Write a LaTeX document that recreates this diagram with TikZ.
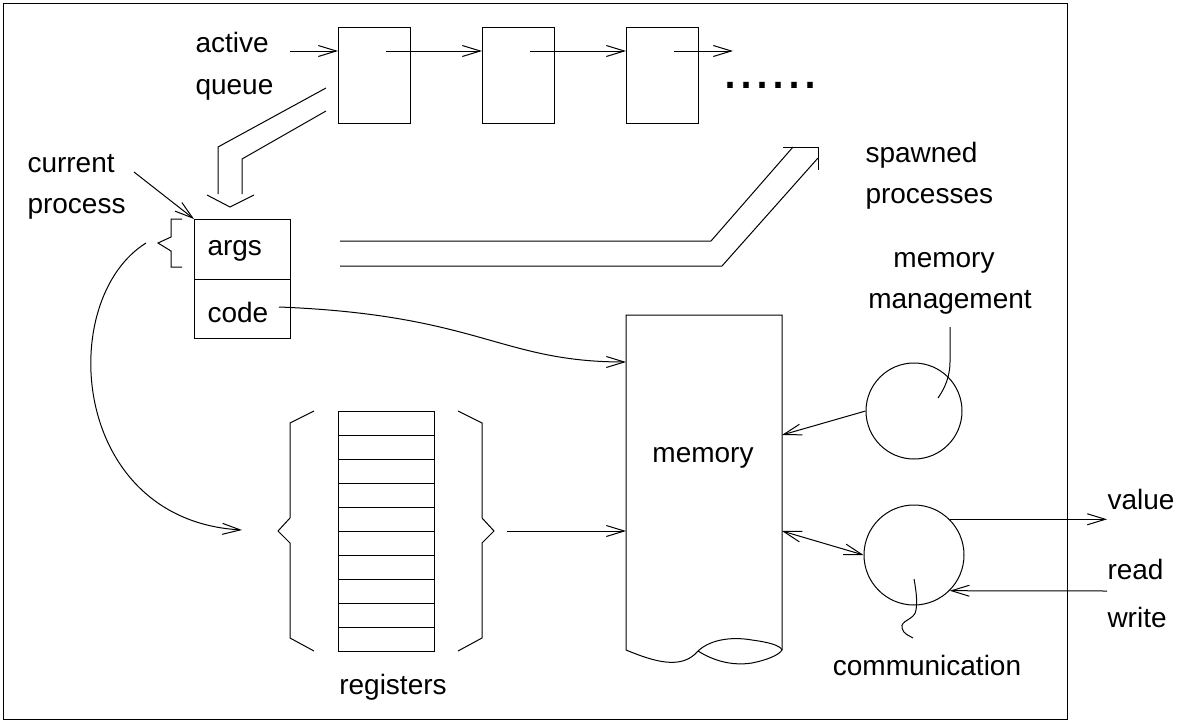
\documentclass[tikz,border=0pt]{standalone}
\usepackage{fontspec}
\setmainfont{Liberation Sans}
\usetikzlibrary{arrows.meta}
\begin{document}
\begin{tikzpicture}[x=1pt,y=-1pt,line width=1pt,
  lbl/.style={font=\fontsize{28}{30}\selectfont,inner sep=0pt,anchor=base west},
  clbl/.style={font=\fontsize{28}{30}\selectfont,inner sep=0pt,anchor=base},
  barb/.tip={Straight Barb[length=18pt,width=11pt]},
  arr/.style={-barb},
  box/.style={draw,inner sep=0pt,anchor=north west},
  circ/.style={draw,circle,inner sep=0pt}]
\useasboundingbox (0,0) rectangle (1178,723);
\draw (3,3) rectangle (1067,719);

% queue
\node[box,minimum width=72pt,minimum height=96pt] (q1) at (338,27) {};
\node[box,minimum width=72pt,minimum height=96pt] (q2) at (482,27) {};
\node[box,minimum width=72pt,minimum height=96pt] (q3) at (626,27) {};
\node[lbl] (active) at (195,52) {active};
\node[lbl] (queue) at (195,94) {queue};
\coordinate (qin) at (290,51);
\coordinate (qout) at (733,51);
\draw[arr] (qin) -- ([yshift=-24pt]q1.north west);
\draw[arr] ([xshift=48pt,yshift=-24pt]q1.north west) -- ([yshift=-24pt]q2.north west);
\draw[arr] ([xshift=48pt,yshift=-24pt]q2.north west) -- ([yshift=-24pt]q3.north west);
\draw[arr] ([xshift=48pt,yshift=-24pt]q3.north west) -- (qout);
\node[inner sep=0pt,anchor=base west,font=\fontsize{57.6}{60}\selectfont] (dots) at (722,88) {......};

% current process
\node[box,minimum width=96pt,minimum height=60pt] (args) at (194,219) {};
\node[box,minimum width=96pt,minimum height=59pt] (code) at (194,279) {};
\node[lbl] (argst) at (207,255) {args};
\node[lbl] (codet) at (207,322) {code};
\node[lbl] (current) at (27,172) {current};
\node[lbl] (process) at (27,213) {process};
\coordinate (cp) at (134,172);
\draw[arr] (cp) -- (args.north west);

% hollow arrow from queue to args
\draw (326,88) -- (218,147) -- (218,194);
\draw (326,111) -- (242,159) -- (242,194);
\draw (207,195) -- (230,207) -- (254,195);

% small brace
\draw (182,219) -- (171,219) -- (171,237) -- (158,243) -- (171,251) -- (171,267) -- (182,267);

% spawned processes
\draw (340,241) -- (711,241) -- (793,147);
\draw (783,147) -- (818,147) -- (818,170);
\draw (340,266) -- (722,266) -- (818,158);
\node[lbl] (spawned) at (865,162) {spawned};
\node[lbl] (processes) at (865,203) {processes};

% memory
\draw (782,650) -- (782,315) -- (626,315) -- (626,650)
  .. controls (655,662) and (682,670) .. (698,651);
\draw (698,651) .. controls (712,638) and (735,637) .. (752,640)
  .. controls (767,642) and (780,645) .. (782,650);
\draw (698,651) .. controls (714,661) and (732,666) .. (752,663)
  .. controls (767,660) and (779,655) .. (782,650);
\node[clbl] (memt) at (703,462) {memory};
\coordinate (memcode) at (626,362);
\coordinate (memregs) at (626,531);
\coordinate (memmm) at (782,435);
\coordinate (memcomm) at (782,531);
\draw[arr] (code.east) ++(-12,-2) coordinate (cs) (cs) .. controls (480,315) and (500,362) .. (memcode);

% registers
\node[box,minimum width=96pt,minimum height=240pt] (regs) at (338,411) {};
\foreach \i in {1,...,9}{\draw (338,411+24*\i) -- (434,411+24*\i);}
\draw (314,411) -- (290,423) -- (290,518) -- (278,531) -- (290,543) -- (290,638) -- (314,651);
\draw (458,411) -- (482,423) -- (482,518) -- (494,531) -- (482,543) -- (482,638) -- (458,651);
\coordinate (rb) at (507,531);
\coordinate (lb) at (242,530);
\draw[arr] (rb) -- (memregs);
\coordinate (bs) at (146,243);
\draw[arr] (bs) .. controls (55,300) and (70,520) .. (lb);
\node[clbl] (registers) at (393,694) {registers};

% memory management
\node[circ,minimum size=96pt] (mm) at (914,411) {};
\node[clbl] (mmt1) at (944,267) {memory};
\node[clbl] (mmt2) at (950,308) {management};
\coordinate (mmsq) at (950,327);
\draw (mmsq) -- (950,362) .. controls (950,376) and (945,388) .. (938,398);
\draw[arr] (mm.west) -- (memmm);

% communication
\node[circ,minimum size=100pt] (comm) at (914,555) {};
\node[clbl] (commt) at (927,675) {communication};
\draw[barb-barb] (memcomm) -- (comm.west);
\coordinate (vend) at (1107,519);
\coordinate (rws) at (1107,591);
\draw[arr] (comm.45) -- (comm.45 -| vend);
\draw[arr] (rws) -- (comm.-45);
\node[lbl] (value) at (1107,509) {value};
\node[lbl] (read) at (1107,579) {read};
\node[lbl] (write) at (1107,627) {write};
\coordinate (csq) at (914,579);
\draw (csq) .. controls (917,595) and (917,603) .. (916,610)
  .. controls (915,620) and (900,620) .. (902,628)
  .. controls (903,634) and (910,636) .. (913,638);
\end{tikzpicture}
\end{document}
